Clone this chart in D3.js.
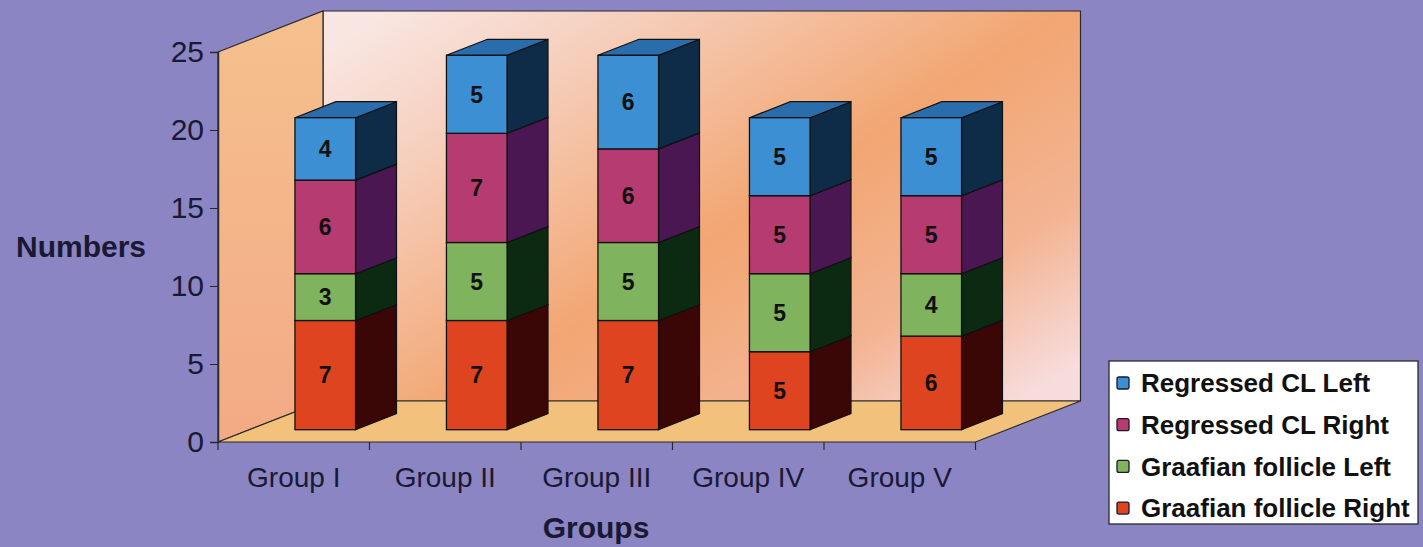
<!DOCTYPE html>
<html>
<head>
<meta charset="utf-8">
<script src="https://cdn.jsdelivr.net/npm/d3@7"></script>
<style>
  body { margin: 0; background: #8b85c3; }
  svg { display: block; }
  text { font-family: "Liberation Sans", Arial, sans-serif; fill: #1a1933; }
</style>
</head>
<body>
<div id="chart"></div>
<script>
// data
const groups = ["Group I", "Group II", "Group III", "Group IV", "Group V"]
const seriesNames = ["Graafian follicle Right", "Graafian follicle Left", "Regressed CL Right", "Regressed CL Left"]
const graafianRight = [7, 7, 7, 5, 6]
const graafianLeft = [3, 5, 5, 5, 4]
const regressedRight = [6, 7, 6, 5, 5]
const regressedLeft = [4, 5, 6, 5, 5]
const yTicks = [0, 5, 10, 15, 20, 25]

const W = 1423, H = 547
// front, side, top colours per series
const fronts = ["#df4420", "#80b35e", "#b53b70", "#3d8fd3"]
const sides = ["#3a0606", "#0c2a12", "#4a1752", "#0e2b48"]
const tops = ["#8a1a0a", "#3f6a2a", "#6e1f4e", "#2a6dac"]

// depth of the 3d box
const DX = 105, DY = -41

const rows = groups.map((g, i) => ({
    group: g,
    [seriesNames[0]]: graafianRight[i],
    [seriesNames[1]]: graafianLeft[i],
    [seriesNames[2]]: regressedRight[i],
    [seriesNames[3]]: regressedLeft[i]
}))
const stacked = d3.stack().keys(seriesNames)(rows)

const svg = d3.select("#chart").append("svg")
    .attr("width", W)
    .attr("height", H)

const defs = svg.append("defs")
const wallGrad = defs.append("linearGradient").attr("id", "wall")
    .attr("x1", 0).attr("y1", 0.1).attr("x2", 1).attr("y2", 0.9)
wallGrad.append("stop").attr("offset", 0).attr("stop-color", "#f9e6e2")
wallGrad.append("stop").attr("offset", 0.18).attr("stop-color", "#f6d2c2")
wallGrad.append("stop").attr("offset", 0.55).attr("stop-color", "#f2a672")
wallGrad.append("stop").attr("offset", 0.8).attr("stop-color", "#f3b493")
wallGrad.append("stop").attr("offset", 1).attr("stop-color", "#f7dcdc")
const sideGrad = defs.append("linearGradient").attr("id", "leftwall")
    .attr("x1", 0).attr("y1", 0).attr("x2", 0).attr("y2", 1)
sideGrad.append("stop").attr("offset", 0).attr("stop-color", "#f5c08e")
sideGrad.append("stop").attr("offset", 1).attr("stop-color", "#f3aa84")

const x = d3.scaleBand()
    .domain(groups)
    .range([218, 975.5])
const y = d3.scaleLinear()
    .domain([0, 25])
    .range([442, 52])

const bw = x.bandwidth() * 0.4
const d0 = 0.3, d1 = 0.69

function pt(px, py, d) { return [px + d * DX, py + d * DY] }
function poly(pts) { return pts.map(p => p.join(",")).join(" ") }

const x0 = x.range()[0], x1 = x.range()[1]
const yb = y(0), yt = y(25)

// walls and floor
svg.append("polygon")
    .attr("points", poly([pt(x0, yt, 1), pt(x1, yt, 1), pt(x1, yb, 1), pt(x0, yb, 1)]))
    .attr("fill", "url(#wall)").attr("stroke", "#2a2a2a").attr("stroke-width", 1.2)
svg.append("polygon")
    .attr("points", poly([[x0, yt], pt(x0, yt, 1), pt(x0, yb, 1), [x0, yb]]))
    .attr("fill", "url(#leftwall)").attr("stroke", "#2a2a2a").attr("stroke-width", 1.2)
svg.append("polygon")
    .attr("points", poly([[x0, yb], [x1, yb], pt(x1, yb, 1), pt(x0, yb, 1)]))
    .attr("fill", "#f2c27c").attr("stroke", "#2a2a2a").attr("stroke-width", 1.2)

// y axis
svg.append("g")
    .attr("transform", "translate(" + x0 + ",0)")
    .call(d3.axisLeft(y).tickValues(yTicks).tickSize(8).tickPadding(6))
    .call(g => g.select(".domain").attr("stroke", "#2a2a2a").attr("stroke-width", 1.5))
    .call(g => g.selectAll(".tick line").attr("stroke", "#2a2a2a"))
    .call(g => g.selectAll(".tick text")
        .attr("font-family", "Liberation Sans, Arial, sans-serif")
        .attr("font-size", 30).attr("fill", "#1a1933"))

// x ticks at band edges + labels
const edges = groups.map(g => x(g)).concat([x1])
svg.selectAll(".xtick").data(edges).join("line")
    .attr("class", "xtick")
    .attr("x1", d => d).attr("x2", d => d)
    .attr("y1", yb).attr("y2", yb + 8)
    .attr("stroke", "#2a2a2a").attr("stroke-width", 1.2)
svg.selectAll(".xlabel").data(groups).join("text")
    .attr("class", "xlabel")
    .attr("x", d => x(d) + x.bandwidth() / 2)
    .attr("y", 487)
    .attr("text-anchor", "middle")
    .attr("font-size", 28)
    .text(d => d)

// bars
stacked.forEach((layer, si) => {
    layer.forEach((seg, gi) => {
        const g = groups[gi]
        const bx = x(g) + (x.bandwidth() - bw) / 2
        const ylo = y(seg[0]), yhi = y(seg[1])
        const bar = svg.append("g")
        // side
        bar.append("polygon")
            .attr("points", poly([pt(bx + bw, ylo, d0), pt(bx + bw, ylo, d1), pt(bx + bw, yhi, d1), pt(bx + bw, yhi, d0)]))
            .attr("fill", sides[si]).attr("stroke", "#111").attr("stroke-width", 1.2)
        // top
        bar.append("polygon")
            .attr("points", poly([pt(bx, yhi, d0), pt(bx + bw, yhi, d0), pt(bx + bw, yhi, d1), pt(bx, yhi, d1)]))
            .attr("fill", tops[si]).attr("stroke", "#111").attr("stroke-width", 1.2)
        // front
        const f0 = pt(bx, yhi, d0)
        bar.append("rect")
            .attr("x", f0[0]).attr("y", f0[1])
            .attr("width", bw).attr("height", ylo - yhi)
            .attr("fill", fronts[si]).attr("stroke", "#111").attr("stroke-width", 1.3)
        bar.append("text")
            .attr("x", f0[0] + bw / 2)
            .attr("y", f0[1] + (ylo - yhi) / 2)
            .attr("dy", "0.36em")
            .attr("text-anchor", "middle")
            .attr("font-size", 23).attr("font-weight", "bold")
            .style("fill", "#111")
            .text(seg[1] - seg[0])
    })
})

// axis titles
svg.append("text")
    .attr("x", 16).attr("y", 257)
    .attr("font-size", 30).attr("font-weight", "bold")
    .text("Numbers")
svg.append("text")
    .attr("x", 596).attr("y", 538)
    .attr("text-anchor", "middle")
    .attr("font-size", 30).attr("font-weight", "bold")
    .text("Groups")

// legend (top to bottom reversed series order)
const legend = svg.append("g").attr("class", "legend")
legend.append("rect")
    .attr("x", 1109).attr("y", 361).attr("width", 309).attr("height", 163)
    .attr("fill", "#ffffff").attr("stroke", "#2a2a2a").attr("stroke-width", 1.3)
const legItems = seriesNames.map((n, i) => ({ name: n, i: i })).reverse()
legItems.forEach((d, k) => {
    const cy = 383 + k * 41.7
    legend.append("rect")
        .attr("x", 1117).attr("y", cy - 6).attr("width", 12).attr("height", 12)
        .attr("rx", 2)
        .attr("fill", fronts[d.i]).attr("stroke", "#1a1a2a").attr("stroke-width", 1.3)
    legend.append("text")
        .attr("x", 1141).attr("y", cy)
        .attr("dy", "0.36em")
        .attr("font-size", 26).attr("font-weight", "bold")
        .style("fill", "#111")
        .text(d.name)
})
</script>
</body>
</html>
